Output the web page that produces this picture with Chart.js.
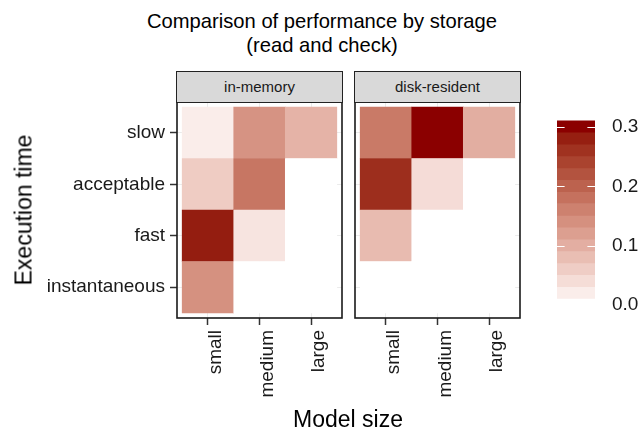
<!DOCTYPE html>
<html><head><meta charset="utf-8">
<script src="https://cdn.jsdelivr.net/npm/chart.js@4.4.1/dist/chart.umd.min.js"></script>
<style>
html,body{margin:0;padding:0;background:#fff;}
#root{position:relative;width:644px;height:431px;overflow:hidden;font-family:'Liberation Sans',Arial,Helvetica,sans-serif;color:#000;}
canvas{position:absolute;}
.txt{position:absolute;white-space:nowrap;}
.strip{position:absolute;box-sizing:border-box;background:#d9d9d9;border:1.5px solid #222;font-size:15px;color:#1a1a1a;display:flex;align-items:center;justify-content:center;}
</style></head><body><div id="root">
<div class="txt" style="left:0;top:9px;width:644px;text-align:center;font-size:20.2px;line-height:24px;color:#000;">Comparison of performance by storage<br>(read and check)</div>
<canvas id="cLeft" width="350" height="431" style="left:0;top:0"></canvas>
<canvas id="cRight" width="184" height="431" style="left:346px;top:0"></canvas>
<canvas id="cBar" width="104" height="230" style="left:540px;top:100px"></canvas>
<div class="strip" id="s0"></div>
<div class="strip" id="s1"></div>
<div class="txt" style="left:24px;top:210px;font-size:23px;line-height:23px;transform:translate(-50%,-50%) rotate(-90deg);">Execution time</div>
<div class="txt" style="left:348px;top:408px;font-size:23px;line-height:23px;transform:translateX(-50%);">Model size</div>
</div>
<script>
// ---- data ----
const sizes = ['small', 'medium', 'large'];
const speeds = ['slow', 'acceptable', 'fast', 'instantaneous'];
const panels = ['in-memory', 'disk-resident'];
// rows follow `speeds`, columns follow `sizes`; null = no observation
const inMemory = [
  [0.021, 0.137, 0.095],
  [0.063, 0.175, null],
  [0.283, 0.032, null],
  [0.140, null,  null]
];
const diskResident = [
  [0.170, 0.301, 0.102],
  [0.266, 0.042, null],
  [0.085, null,  null],
  [null,  null,  null]
];
const legendBreaks = [0.0, 0.1, 0.2, 0.3];

// ---- styling ----
const lowColor = '#FAEDEA', highColor = '#8B0000', naColor = '#FFFFFF';
const nBins = 15;
Chart.defaults.font.family = "'Liberation Sans', Arial, Helvetica, sans-serif";
Chart.defaults.color = '#1a1a1a';

function lin(c){c/=255;return c<=0.04045?c/12.92:Math.pow((c+0.055)/1.055,2.4);}
function unlin(c){const v=c<=0.0031308?12.92*c:1.055*Math.pow(c,1/2.4)-0.055;return Math.round(Math.max(0,Math.min(1,v))*255);}
function hexToLab(h){
  const r=lin(parseInt(h.substr(1,2),16)),g=lin(parseInt(h.substr(3,2),16)),b=lin(parseInt(h.substr(5,2),16));
  const X=(0.4124*r+0.3576*g+0.1805*b)/0.95047,Y=0.2126*r+0.7152*g+0.0722*b,Z=(0.0193*r+0.1192*g+0.9505*b)/1.08883;
  const f=t=>t>0.008856?Math.cbrt(t):7.787*t+16/116;
  const fx=f(X),fy=f(Y),fz=f(Z);
  return [116*fy-16,500*(fx-fy),200*(fy-fz)];
}
function labToHex(L,a,b){
  const fy=(L+16)/116,fx=fy+a/500,fz=fy-b/200;
  const fi=t=>t*t*t>0.008856?t*t*t:(t-16/116)/7.787;
  const X=fi(fx)*0.95047,Y=fi(fy),Z=fi(fz)*1.08883;
  const r=3.2406*X-1.5372*Y-0.4986*Z,g=-0.9689*X+1.8758*Y+0.0415*Z,bb=0.0557*X-0.2040*Y+1.0570*Z;
  return 'rgb('+unlin(r)+','+unlin(g)+','+unlin(bb)+')';
}
const labLo=hexToLab(lowColor), labHi=hexToLab(highColor);
const allVals=[...inMemory.flat(),...diskResident.flat()].filter(v=>v!=null);
const vmin=Math.min(...allVals), vmax=Math.max(...allVals);
function fillFor(v){
  if(v==null) return naColor;
  const t=(v-vmin)/(vmax-vmin);
  return labToHex(labLo[0]+(labHi[0]-labLo[0])*t,labLo[1]+(labHi[1]-labLo[1])*t,labLo[2]+(labHi[2]-labLo[2])*t);
}

const panelBorder={id:'panelBorder',afterDraw(chart){
  const {ctx,chartArea:a}=chart;ctx.save();ctx.strokeStyle='#1a1a1a';ctx.lineWidth=1.6;
  ctx.strokeRect(a.left,a.top,a.right-a.left,a.bottom-a.top);ctx.restore();}};

function makeHeat(id, vals, opt){
  const pts=[],cols=[];
  speeds.forEach((s,r)=>sizes.forEach((z,c)=>{
    const row=speeds.length-r;
    pts.push({x:c+1,y:[row-0.5,row+0.5],v:vals[r][c]});
    cols.push(fillFor(vals[r][c]));
  }));
  return new Chart(document.getElementById(id),{
    type:'bar',
    data:{datasets:[{data:pts,backgroundColor:cols,borderWidth:0,barPercentage:1,categoryPercentage:1,inflateAmount:0.3}]},
    options:{responsive:false,animation:false,events:[],
      layout:{padding:opt.padding},
      plugins:{legend:{display:false},tooltip:{enabled:false}},
      scales:{
        x:{type:'linear',offset:false,min:0.4,max:3.6,afterFit:s=>{s.height=113;},
          ticks:{stepSize:1,includeBounds:false,autoSkip:false,maxRotation:90,minRotation:90,padding:5,labelOffset:8,font:{size:19},color:'#1a1a1a',callback:v=>sizes[v-1]},
          grid:{offset:false,color:'#EBEBEB',lineWidth:1,tickColor:'#333',tickWidth:1.5,tickLength:7},border:{display:false}},
        y:{type:'linear',offset:false,min:0.4,max:4.6,afterFit:s=>{s.width=opt.yWidth;},
          ticks:{display:opt.showY,stepSize:1,includeBounds:false,padding:5,font:{size:19},color:'#1a1a1a',callback:v=>speeds[speeds.length-v]},
          grid:{offset:false,color:'#EBEBEB',lineWidth:1,drawTicks:opt.showY,tickColor:'#333',tickWidth:1.5,tickLength:7},border:{display:false}}
      }},
    plugins:[panelBorder]
  });
}

const chL=makeHeat('cLeft',inMemory,{padding:{top:102,left:0,right:8,bottom:0},yWidth:177,showY:true});
const chR=makeHeat('cRight',diskResident,{padding:{top:102,left:9,right:10,bottom:0},yWidth:0,showY:false});

function placeStrip(el,chart,canvasLeft,label){
  const a=chart.chartArea;el.textContent=label;
  el.style.left=(canvasLeft+a.left-0.8)+'px';el.style.width=(a.right-a.left+1.6)+'px';
  el.style.top='71px';el.style.height=(a.top-71+0.8)+'px';
}
placeStrip(document.getElementById('s0'),chL,0,panels[0]);
placeStrip(document.getElementById('s1'),chR,346,panels[1]);

// ---- colour bar ----
const step=(vmax-vmin)/(nBins-1);
const binData=[],binCols=[];
for(let i=0;i<nBins;i++){const v=vmin+i*step;binData.push({x:'bar',y:[v-step/2,v+step/2]});binCols.push(fillFor(v));}
const barLo=vmin-step/2, barHi=vmax+step/2;
const barTicks={id:'barTicks',afterDatasetsDraw(chart){
  const {ctx,chartArea:a}=chart;const y=chart.scales.y;const w=(a.right-a.left)/5;
  ctx.save();ctx.strokeStyle='#ffffff';ctx.lineWidth=1;
  legendBreaks.forEach(b=>{if(b<barLo||b>barHi)return;const py=Math.round(y.getPixelForValue(b))+0.5;
    ctx.beginPath();ctx.moveTo(a.left,py);ctx.lineTo(a.left+w,py);ctx.moveTo(a.right-w,py);ctx.lineTo(a.right,py);ctx.stroke();});
  ctx.restore();}};
new Chart(document.getElementById('cBar'),{
  type:'bar',
  data:{labels:['bar'],datasets:[{data:binData,backgroundColor:binCols,borderWidth:0,barPercentage:1,categoryPercentage:1,inflateAmount:0.3}]},
  options:{responsive:false,animation:false,events:[],
    layout:{padding:{left:17,top:20,bottom:25,right:0}},
    plugins:{legend:{display:false},tooltip:{enabled:false}},
    scales:{
      x:{display:false},
      y:{position:'right',min:0,max:barHi,afterFit:s=>{s.width=49;},
        afterBuildTicks:s=>{s.ticks=legendBreaks.map(v=>({value:v}));},
        ticks:{padding:9,font:{size:19},color:'#1a1a1a',callback:v=>Number(v).toFixed(1)},
        grid:{display:false},border:{display:false}}
    }},
  plugins:[barTicks]
});
</script></body></html>
